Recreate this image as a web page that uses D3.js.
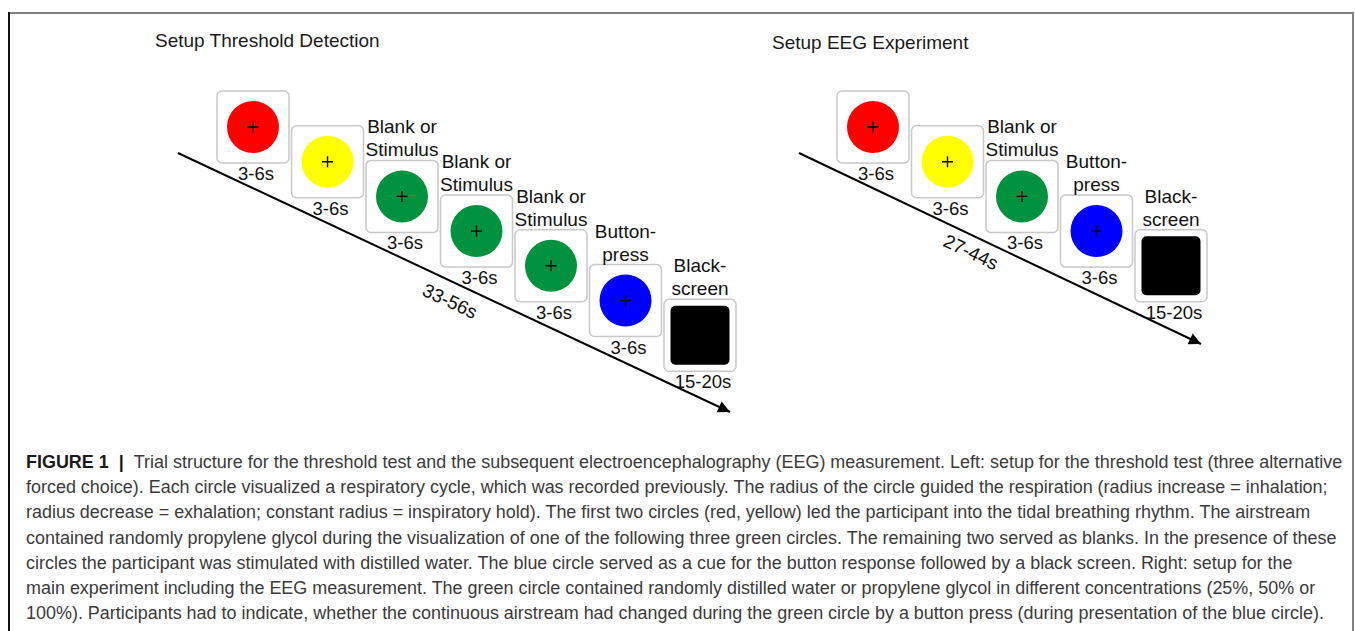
<!DOCTYPE html>
<html>
<head>
<meta charset="utf-8">
<script src="https://cdn.jsdelivr.net/npm/d3@7"></script>
<style>
  html, body { margin: 0; padding: 0; background: #fff; }
  svg { display: block; }
</style>
</head>
<body>
<svg id="fig" width="1355" height="631"></svg>
<script>
// stimulus sequence for each setup
var leftStimuli = ["red", "yellow", "green", "green", "green", "blue", "black"];
var leftLabels = ["", "", "Blank or|Stimulus", "Blank or|Stimulus", "Blank or|Stimulus", "Button-|press", "Black-|screen"];
var leftDurations = ["3-6s", "3-6s", "3-6s", "3-6s", "3-6s", "3-6s", "15-20s"];
var leftTotal = "33-56s";

var rightStimuli = ["red", "yellow", "green", "blue", "black"];
var rightLabels = ["", "", "Blank or|Stimulus", "Button-|press", "Black-|screen"];
var rightDurations = ["3-6s", "3-6s", "3-6s", "3-6s", "15-20s"];
var rightTotal = "27-44s";

var titles = ["Setup Threshold Detection", "Setup EEG Experiment"];

var captionLines = [
  "Trial structure for the threshold test and the subsequent electroencephalography (EEG) measurement. Left: setup for the threshold test (three alternative",
  "forced choice). Each circle visualized a respiratory cycle, which was recorded previously. The radius of the circle guided the respiration (radius increase = inhalation;",
  "radius decrease = exhalation; constant radius = inspiratory hold). The first two circles (red, yellow) led the participant into the tidal breathing rhythm. The airstream",
  "contained randomly propylene glycol during the visualization of one of the following three green circles. The remaining two served as blanks. In the presence of these",
  "circles the participant was stimulated with distilled water. The blue circle served as a cue for the button response followed by a black screen. Right: setup for the",
  "main experiment including the EEG measurement. The green circle contained randomly distilled water or propylene glycol in different concentrations (25%, 50% or",
  "100%). Participants had to indicate, whether the continuous airstream had changed during the green circle by a button press (during presentation of the blue circle)."
];

var svg = d3.select("#fig");
var font = "'Liberation Sans', Arial, Helvetica, sans-serif";

var color = d3.scaleOrdinal()
    .domain(["red", "yellow", "green", "blue", "black"])
    .range(["#ff0000", "#ffff00", "#00923f", "#0000ff", "#000000"]);

// frame
svg.append("line").attr("x1", 9).attr("x2", 1354).attr("y1", 13).attr("y2", 13)
    .attr("stroke", "#808080").attr("stroke-width", 2);
svg.append("line").attr("x1", 9).attr("x2", 9).attr("y1", 12).attr("y2", 631)
    .attr("stroke", "#111").attr("stroke-width", 2);
svg.append("line").attr("x1", 1353).attr("x2", 1353).attr("y1", 12).attr("y2", 631)
    .attr("stroke", "#808080").attr("stroke-width", 2);

svg.append("defs").append("marker")
    .attr("id", "arrow")
    .attr("viewBox", "0 0 10 10")
    .attr("refX", 10).attr("refY", 5)
    .attr("markerWidth", 8).attr("markerHeight", 6)
    .attr("markerUnits", "strokeWidth")
    .attr("orient", "auto")
  .append("path")
    .attr("d", "M0,0 L10,5 L0,10 Z")
    .attr("fill", "#000");

function panel(opt) {
    var g = svg.append("g");
    var boxSize = 72;

    var x = d3.scaleLinear().domain([0, 1]).range([opt.x0, opt.x0 + 74.5]);
    var y = d3.scaleLinear().domain([0, 1]).range([91, 91 + 34.7]);

    g.append("text")
        .attr("x", opt.titleX).attr("y", opt.titleY)
        .attr("font-family", font).attr("font-size", 19)
        .attr("fill", "#1a1a1a")
        .text(opt.title);

    // time arrow
    g.append("line")
        .attr("x1", opt.arrow[0]).attr("y1", opt.arrow[1])
        .attr("x2", opt.arrow[2]).attr("y2", opt.arrow[3])
        .attr("stroke", "#000").attr("stroke-width", 2)
        .attr("marker-end", "url(#arrow)");

    var ang = Math.atan2(opt.arrow[3] - opt.arrow[1], opt.arrow[2] - opt.arrow[0]) * 180 / Math.PI;
    g.append("text")
        .attr("transform", "translate(" + opt.totalPos[0] + "," + opt.totalPos[1] + ") rotate(" + ang + ")")
        .attr("text-anchor", "middle").attr("dy", "0.35em")
        .attr("font-family", font).attr("font-size", 19)
        .attr("fill", "#111")
        .text(opt.total);

    var steps = g.selectAll("g.step")
        .data(opt.stimuli.map(function (s, i) { return { stim: s, label: opt.labels[i], dur: opt.durations[i], i: i }; }))
        .enter().append("g")
        .attr("class", "step")
        .attr("transform", function (d) { return "translate(" + x(d.i) + "," + y(d.i) + ")"; });

    steps.append("rect")
        .attr("x", 0).attr("y", 0)
        .attr("width", boxSize).attr("height", boxSize)
        .attr("rx", 5)
        .attr("fill", "#fff")
        .attr("stroke", "#c8c8c8").attr("stroke-width", 1.5);

    steps.filter(function (d) { return d.stim !== "black"; })
        .append("circle")
        .attr("cx", boxSize / 2).attr("cy", boxSize / 2)
        .attr("r", 26)
        .attr("fill", function (d) { return color(d.stim); });

    steps.filter(function (d) { return d.stim === "black"; })
        .append("rect")
        .attr("x", 6.5).attr("y", 6.5)
        .attr("width", boxSize - 13).attr("height", boxSize - 13)
        .attr("rx", 5)
        .attr("fill", color("black"));

    // fixation cross
    steps.filter(function (d) { return d.stim !== "black"; })
        .append("path")
        .attr("d", "M" + (boxSize / 2 - 5.5) + "," + boxSize / 2 + "H" + (boxSize / 2 + 5.5) +
                   "M" + boxSize / 2 + "," + (boxSize / 2 - 5.5) + "V" + (boxSize / 2 + 5.5))
        .attr("fill", "none")
        .attr("stroke", "#000").attr("stroke-width", 1.4);

    steps.append("text")
        .attr("x", boxSize / 2 + 3).attr("y", boxSize + 17)
        .attr("text-anchor", "middle")
        .attr("font-family", font).attr("font-size", 18.5)
        .attr("fill", "#111")
        .text(function (d) { return d.dur; });

    steps.filter(function (d) { return d.label; })
        .append("text")
        .attr("text-anchor", "middle")
        .attr("font-family", font).attr("font-size", 19)
        .attr("fill", "#111")
        .each(function (d) {
            var parts = d.label.split("|");
            var t = d3.select(this);
            parts.forEach(function (p, k) {
                t.append("tspan")
                    .attr("x", boxSize / 2)
                    .attr("y", -4 - (parts.length - 1 - k) * 23)
                    .text(p);
            });
        });
}

panel({
    stimuli: leftStimuli, labels: leftLabels, durations: leftDurations, total: leftTotal,
    title: titles[0], titleX: 155, titleY: 47,
    x0: 217, arrow: [178, 153, 730, 412], totalPos: [450, 301]
});

panel({
    stimuli: rightStimuli, labels: rightLabels, durations: rightDurations, total: rightTotal,
    title: titles[1], titleX: 772, titleY: 49,
    x0: 837, arrow: [799, 153, 1201, 344], totalPos: [971, 252]
});

// caption
var cap = svg.append("g").attr("transform", "translate(26,0)");
var capText = cap.selectAll("text")
    .data(captionLines)
    .enter().append("text")
    .attr("x", 0)
    .attr("y", function (d, i) { return 468 + i * 25.2; })
    .attr("font-family", font).attr("font-size", 17.5)
    .attr("fill", "#3a3a3a");

capText.each(function (d, i) {
    var t = d3.select(this);
    if (i === 0) {
        t.append("tspan").attr("font-weight", "bold").attr("fill", "#1a1a1a").text("FIGURE 1");
        t.append("tspan").attr("font-weight", "bold").attr("fill", "#1a1a1a").text("\u00a0\u00a0|\u00a0\u00a0");
    }
    t.append("tspan").text(d);
});

// squeeze text horizontally so the first line spans the same width as the original
var w0 = capText.nodes()[0].getComputedTextLength();
var sx = 1317 / w0;
cap.attr("transform", "translate(26,0) scale(" + sx + ",1)");
</script>
</body>
</html>
